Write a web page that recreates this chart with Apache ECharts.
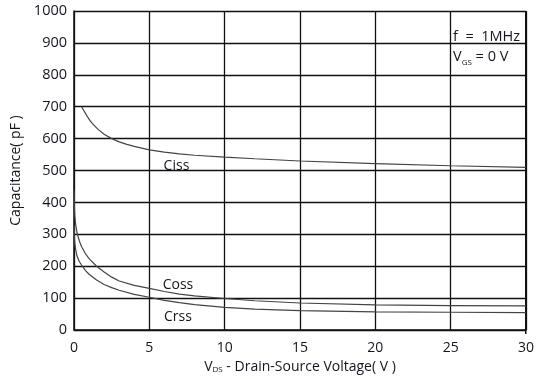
<!DOCTYPE html>
<html>
<head>
<meta charset="utf-8">
<script src="https://cdn.jsdelivr.net/npm/echarts@6/dist/echarts.min.js"></script>
<style>
  html, body { margin: 0; padding: 0; background: #fff; }
  #chart { width: 537px; height: 379px; }
</style>
</head>
<body>
<div id="chart"></div>
<script>
    var cissV = [0.5, 0.6, 0.75, 0.9, 1.1, 1.3, 1.6, 2, 2.5, 3, 3.5, 4, 5, 6, 7, 8, 10, 12, 15, 20, 25, 30];
    var cissC = [700, 692, 680, 668, 654, 643, 629, 614, 600, 590, 582, 576, 565, 558, 552, 548, 542, 537, 530, 522, 515, 510];

    var cossV = [0, 0.02, 0.05, 0.1, 0.2, 0.35, 0.5, 0.75, 1, 1.5, 2, 2.5, 3, 4, 5, 6, 7, 8, 10, 12, 15, 20, 25, 30];
    var cossC = [440, 400, 360, 335, 305, 280, 262, 240, 224, 200, 182, 166, 154, 140, 131, 121, 113, 107, 99, 92, 85, 79, 77, 76];

    var crssV = [0, 0.02, 0.05, 0.1, 0.2, 0.35, 0.5, 0.75, 1, 1.5, 2, 2.5, 3, 4, 5, 6, 7, 8, 10, 12, 15, 20, 25, 30];
    var crssC = [330, 300, 275, 255, 232, 215, 204, 187, 175, 157, 143, 133, 125, 112, 103, 93, 86, 80, 71, 66, 61, 57, 56, 55];

    var xTicks = [0, 5, 10, 15, 20, 25, 30];
    var yTicks = [0, 100, 200, 300, 400, 500, 600, 700, 800, 900, 1000];

    function pairs(xs, ys) {
        return xs.map(function (x, i) { return [x, ys[i]]; });
    }

    var font = '"Open Sans", sans-serif';
    var txt = '#15151f';

    function curve(name, xs, ys, labelAt) {
        return {
            name: name,
            type: 'line',
            data: pairs(xs, ys),
            smooth: false,
            symbol: 'none',
            lineStyle: { color: '#444', width: 1.2 },
            markPoint: {
                symbol: 'rect',
                symbolSize: 0,
                data: [{ coord: labelAt }],
                label: {
                    show: true,
                    formatter: name,
                    color: txt,
                    fontFamily: font,
                    fontSize: 14
                }
            }
        };
    }

    var myChart = echarts.init(document.getElementById('chart'));

    var option = {
        animation: false,
        grid: {
            left: 74,
            right: 11,
            top: 11,
            bottom: 45
        },
        xAxis: {
            type: 'value',
            min: xTicks[0],
            max: xTicks[xTicks.length - 1],
            interval: 5,
            name: 'V{sub|DS} - Drain-Source Voltage( V )',
            nameLocation: 'middle',
            nameGap: 22,
            nameTextStyle: {
                color: txt,
                fontFamily: font,
                fontSize: 14,
                rich: {
                    sub: { fontSize: 8, color: txt, fontFamily: font, verticalAlign: 'bottom', padding: [6, 0, 0, 0] }
                }
            },
            axisLine: { lineStyle: { color: '#111', width: 1.5 } },
            axisTick: { show: false },
            axisLabel: { color: txt, fontFamily: font, fontSize: 14, margin: 11 },
            splitLine: { show: true, lineStyle: { color: '#111', width: 1.3 } }
        },
        yAxis: {
            type: 'value',
            min: yTicks[0],
            max: yTicks[yTicks.length - 1],
            interval: 100,
            name: 'Capacitance( pF )',
            nameLocation: 'middle',
            nameGap: 50,
            nameTextStyle: { color: txt, fontFamily: font, fontSize: 14 },
            axisLine: { show: true, lineStyle: { color: '#111', width: 1.5 } },
            axisTick: { show: false },
            axisLabel: {
                color: txt, fontFamily: font, fontSize: 14.5, margin: 7,
                formatter: function (v) { return String(v); }
            },
            splitLine: { show: true, lineStyle: { color: '#111', width: 1.3 } }
        },
        graphic: [{
            type: 'rect',
            left: 525,
            top: 11,
            shape: { width: 1.5, height: 323 },
            style: { fill: '#111' }
        }, {
            type: 'text',
            left: 453,
            top: 27,
            style: {
                text: 'f  =  1MHz\nV{sub|GS} = 0 V',
                fill: txt,
                font: '14.5px ' + font,
                lineHeight: 20,
                rich: {
                    sub: { fontSize: 8, fill: txt, fontFamily: font, verticalAlign: 'bottom', padding: [6, 0, 0, 0] }
                }
            }
        }],
        series: [
            curve('Ciss', cissV, cissC, [6.8, 515]),
            curve('Coss', cossV, cossC, [6.9, 142]),
            curve('Crss', crssV, crssC, [6.9, 42])
        ]
    };

    myChart.setOption(option);
</script>
</body>
</html>
